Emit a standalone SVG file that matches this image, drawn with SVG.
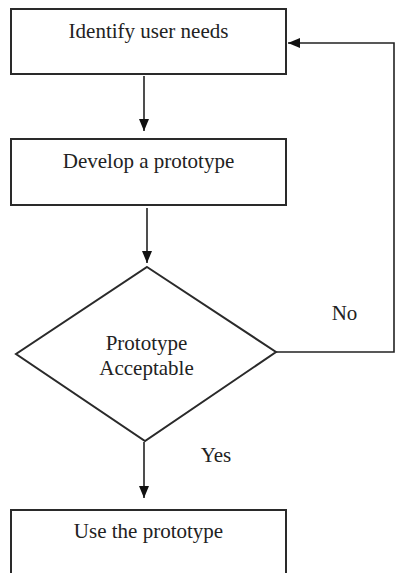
<svg xmlns="http://www.w3.org/2000/svg" width="395" height="573" viewBox="0 0 395 573">
<defs>
<style>
.box{fill:#fff;stroke:#2a2a2a;stroke-width:2}
.ln{fill:none;stroke:#222;stroke-width:1.6}
.t{font-family:"Liberation Serif","Times New Roman",serif;font-size:21px;fill:#222;text-anchor:middle}
</style>
<marker id="ah" viewBox="0 0 12 10" refX="12" refY="5" markerWidth="12" markerHeight="10" markerUnits="userSpaceOnUse" orient="auto">
<path d="M0,0 L12,5 L0,10 Z" fill="#111"/>
</marker>
</defs>
<rect width="395" height="573" fill="#fff"/>
<g id="connectors">
<line class="ln" x1="144" y1="76" x2="144" y2="131" marker-end="url(#ah)"/>
<line class="ln" x1="147" y1="208" x2="147" y2="263" marker-end="url(#ah)"/>
<line class="ln" x1="144" y1="442" x2="144" y2="498" marker-end="url(#ah)"/>
<polyline class="ln" points="276,352 394,352 394,43 288,43" marker-end="url(#ah)"/>
<text class="t" x="344.5" y="320">No</text>
<text class="t" x="216" y="462">Yes</text>
</g>
<g id="identify">
<rect class="box" x="11" y="9" width="275" height="65"/>
<text class="t" x="148.5" y="38">Identify user needs</text>
</g>
<g id="develop">
<rect class="box" x="11" y="139" width="275" height="66"/>
<text class="t" x="148.5" y="168">Develop a prototype</text>
</g>
<g id="decision">
<polygon class="box" points="147,267 276,352 145,441 16,354"/>
<text class="t" x="146.5" y="350">Prototype</text>
<text class="t" x="146.5" y="375">Acceptable</text>
</g>
<g id="use">
<rect class="box" x="11" y="510" width="275" height="75"/>
<text class="t" x="148.5" y="538">Use the prototype</text>
</g>
</svg>
